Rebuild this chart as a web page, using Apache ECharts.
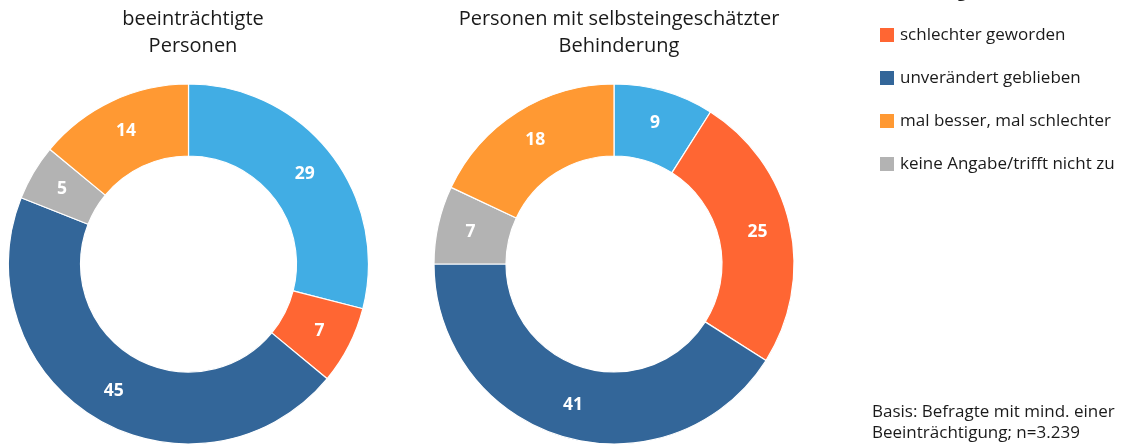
<!DOCTYPE html>
<html>
<head>
<meta charset="utf-8">
<script src="https://cdn.jsdelivr.net/npm/echarts@6/dist/echarts.min.js"></script>
<style>html,body{margin:0;padding:0;background:#fff}#c{width:1126px;height:447px}</style>
</head>
<body>
<div id="c"></div>
<script>
const categories = ['besser geworden', 'schlechter geworden', 'unverändert geblieben', 'mal besser, mal schlechter', 'keine Angabe/trifft nicht zu'];
const colors = ['#41ade4', '#ff6633', '#336699', '#ff9933', '#b3b3b3'];
const valuesBeeintraechtigt = [29, 7, 45, 14, 5];
const valuesBehinderung = [9, 25, 41, 18, 7];
const sliceOrder = [0, 1, 2, 4, 3];
const titles = ['beeinträchtigte\nPersonen', 'Personen mit selbsteingeschätzter\nBehinderung'];
const noteLines = ['Basis: Befragte mit mind. einer', 'Beeinträchtigung; n=3.239'];

const FONT = 'Open Sans';
const chart = echarts.init(document.getElementById('c'), null, {renderer: 'canvas'});

function mk(values) {
  return sliceOrder.map(i => ({name: categories[i], value: values[i], itemStyle: {color: colors[i]}}));
}
function pie(values, cx) {
  return {
    type: 'pie',
    center: [cx, 264],
    radius: [108, 180],
    startAngle: 90,
    clockwise: true,
    avoidLabelOverlap: false,
    silent: true,
    itemStyle: {borderColor: '#fff', borderWidth: 1.2},
    label: {show: true, position: 'inside', formatter: '{c}', color: '#fff', fontFamily: FONT, fontWeight: 'bold', fontSize: 17.5},
    labelLine: {show: false},
    emphasis: {disabled: true},
    data: mk(values)
  };
}

chart.setOption({
  animation: false,
  color: colors,
  title: [
    {text: titles[0], left: 188, top: 1, textAlign: 'center', textStyle: {fontFamily: FONT, fontWeight: 'normal', fontSize: 20, color: '#1a1a1a', lineHeight: 27}},
    {text: titles[1], left: 614, top: 1, textAlign: 'center', textStyle: {fontFamily: FONT, fontWeight: 'normal', fontSize: 20, color: '#1a1a1a', lineHeight: 27}}
  ],
  legend: {
    orient: 'vertical',
    left: 873,
    top: -25,
    itemWidth: 16,
    itemHeight: 16,
    itemGap: 19,
    icon: 'rect',
    selectedMode: false,
    textStyle: {fontFamily: FONT, fontSize: 17, color: '#1a1a1a', lineHeight: 24},
    data: categories
  },
  graphic: [
    {type: 'text', left: 872, top: 402, style: {text: noteLines.join('\n'), font: '17px "Open Sans"', fill: '#1a1a1a', lineHeight: 21}}
  ],
  series: [pie(valuesBeeintraechtigt, 188.5), pie(valuesBehinderung, 614)]
});
</script>
</body>
</html>
